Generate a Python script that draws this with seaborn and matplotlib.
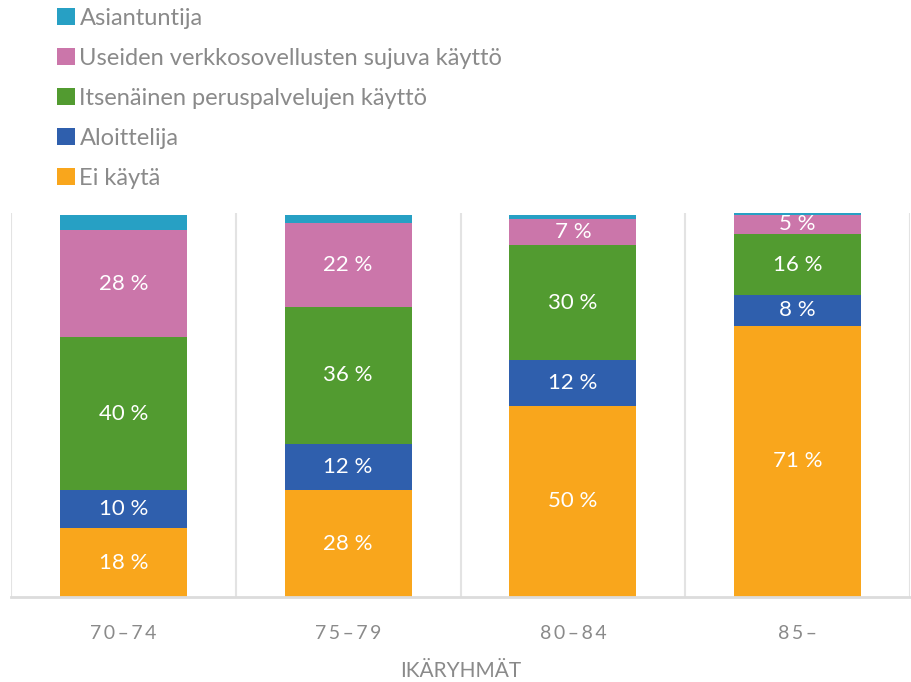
import matplotlib
matplotlib.use("Agg")
import matplotlib.pyplot as plt
from matplotlib.patches import Patch
import seaborn as sns
import pandas as pd
import numpy as np

categories = ["70–74", "75–79", "80–84", "85–"]
series_names = ["Ei käytä", "Aloittelija", "Itsenäinen peruspalvelujen käyttö",
                "Useiden verkkosovellusten sujuva käyttö", "Asiantuntija"]
ei_kayta = [18, 28, 50, 71]
aloittelija = [10, 12, 12, 8]
itsenainen = [40, 36, 30, 16]
useiden = [28, 22, 7, 5]
asiantuntija = [4, 2, 1, 0.5]
colors = ["#F9A61C", "#2F5FAD", "#529B30", "#CB76AA", "#27A0C4"]
show_labels = [True, True, True, True, False]

values = [ei_kayta, aloittelija, itsenainen, useiden, asiantuntija]

sns.set_theme(style="white")
plt.rcParams["font.family"] = ["Lato", "DejaVu Sans"]

fig = plt.figure(figsize=(9.11, 6.82), dpi=100)
ax = fig.add_axes([11 / 911, 1 - 597 / 682, 899 / 911, 384 / 682])

df = pd.DataFrame({"cat": categories})
cum = np.zeros(len(categories))
bottoms = []
for v in values:
    bottoms.append(cum.copy())
    cum = cum + np.array(v, dtype=float)
tops = [b + np.array(v, dtype=float) for b, v in zip(bottoms, values)]

# draw from top series downward (cumulative overlay)
for i in reversed(range(len(values))):
    d = df.copy()
    d["val"] = tops[i]
    sns.barplot(data=d, x="cat", y="val", color=colors[i], width=0.565,
                saturation=1, ax=ax, order=categories, linewidth=0, edgecolor="none")

for i, v in enumerate(values):
    if not show_labels[i]:
        continue
    for j, val in enumerate(v):
        ax.text(j, bottoms[i][j] + val / 2, f"{val:.0f} %", ha="center", va="center",
                color="white", fontsize=16)

ax.set_xlim(-0.5, 3.5)
ax.set_ylim(0, max(cum))
for xv in [-0.5, 0.5, 1.5, 2.5, 3.5]:
    ax.axvline(xv, color="#E3E3E3", lw=1.5, zorder=0)
for s in ["top", "left", "right"]:
    ax.spines[s].set_visible(False)
ax.spines["bottom"].set_color("#DCDCDC")
ax.spines["bottom"].set_linewidth(2)
ax.set_yticks([])
ax.set_ylabel("")
ax.set_xticks(range(len(categories)))
ax.set_xticklabels(["\u2009".join(c) for c in categories])
ax.tick_params(axis="x", length=0, pad=20, labelsize=14, labelcolor="#8A8A8A")
ax.set_xlabel("IKÄRYHMÄT", fontsize=15, color="#8A8A8A", labelpad=14)

handles = [Patch(facecolor=colors[i], edgecolor="none") for i in reversed(range(5))]
labels = [series_names[i] for i in reversed(range(5))]
fig.legend(handles, labels, loc="upper left", bbox_to_anchor=(57 / 911, 1 - 8 / 682),
           frameon=False, fontsize=17, labelcolor="#8A8A8A", handlelength=0.75,
           handleheight=0.75, handletextpad=0.2, labelspacing=0.8,
           borderpad=0, borderaxespad=0)

fig.savefig("out.png", dpi=100)
